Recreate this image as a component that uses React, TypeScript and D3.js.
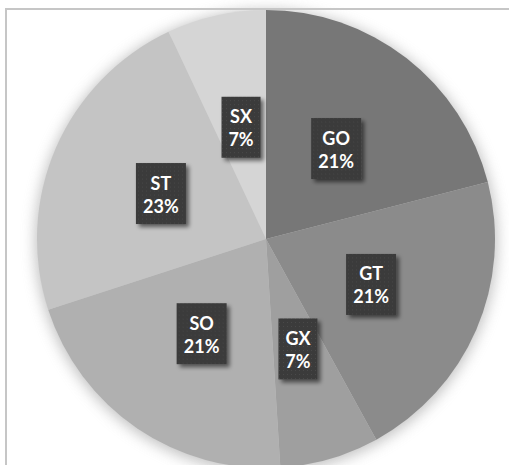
import React, { useEffect, useRef } from "react";
import * as d3 from "d3";

const categories = ["GO", "GT", "GX", "SO", "ST", "SX"];
const values = [21, 21, 7, 21, 23, 7];
const colors = ["#777777", "#8b8b8b", "#9f9f9f", "#b0b0b0", "#c4c4c4", "#d5d5d5"];

const W = 509;
const H = 465;
const CX = 266;
const CY = 239;
const R = 229;

export default function App() {
  const ref = useRef<SVGSVGElement | null>(null);

  useEffect(() => {
    const svg = d3.select(ref.current);
    svg.selectAll("*").remove();

    const defs = svg.append("defs");
    const glow = defs.append("filter").attr("id", "glow").attr("x", "-20%").attr("y", "-20%").attr("width", "140%").attr("height", "140%");
    glow.append("feGaussianBlur").attr("stdDeviation", 7);

    const sh = defs.append("filter").attr("id", "boxsh").attr("x", "-30%").attr("y", "-30%").attr("width", "160%").attr("height", "160%");
    sh.append("feGaussianBlur").attr("in", "SourceAlpha").attr("stdDeviation", 2).attr("result", "b");
    sh.append("feOffset").attr("in", "b").attr("dx", 3).attr("dy", 3).attr("result", "o");
    sh.append("feComponentTransfer").attr("in", "o").attr("result", "o2")
      .append("feFuncA").attr("type", "linear").attr("slope", 0.55);
    const m = sh.append("feMerge");
    m.append("feMergeNode").attr("in", "o2");
    m.append("feMergeNode").attr("in", "SourceGraphic");

    const pat = defs.append("pattern").attr("id", "dots").attr("width", 4).attr("height", 4).attr("patternUnits", "userSpaceOnUse");
    pat.append("rect").attr("width", 4).attr("height", 4).attr("fill", "#3a3a3a");
    pat.append("rect").attr("x", 1).attr("y", 1).attr("width", 1).attr("height", 1).attr("fill", "#4a4a4a");

    svg.append("rect").attr("width", W).attr("height", H).attr("fill", "#ffffff");

    const g = svg.append("g").attr("transform", `translate(${CX},${CY})`);

    g.append("circle").attr("r", R + 2).attr("cy", 2).attr("fill", "#9a9a9a").attr("filter", "url(#glow)").attr("opacity", 0.6);

    const pie = d3.pie<number>().sort(null).value((d) => d);
    const arcs = pie(values);
    const arc = d3.arc<d3.PieArcDatum<number>>().innerRadius(0).outerRadius(R);

    g.selectAll("path.slice")
      .data(arcs)
      .enter()
      .append("path")
      .attr("class", "slice")
      .attr("d", arc as any)
      .attr("fill", (_d, i) => colors[i]);

    const total = d3.sum(values);
    const lg = g.selectAll("g.lab").data(arcs).enter().append("g").attr("class", "lab")
      .attr("transform", (d) => {
        const c = arc.centroid(d);
        return `translate(${c[0]},${c[1]})`;
      });

    lg.each(function (d, i) {
      const sel = d3.select(this);
      const rect = sel.append("rect").attr("fill", "url(#dots)").attr("filter", "url(#boxsh)");
      const t1 = sel.append("text").text(categories[i]).attr("y", -11);
      const t2 = sel.append("text").text(`${Math.round((d.data / total) * 100)}%`).attr("y", 12);
      [t1, t2].forEach((t) =>
        t.attr("text-anchor", "middle").attr("dominant-baseline", "central")
          .attr("fill", "#ffffff").attr("font-family", "Lato, 'Open Sans', sans-serif")
          .attr("font-weight", "bold").attr("font-size", 18)
      );
      const w = Math.max((t1.node() as SVGTextElement).getComputedTextLength(), (t2.node() as SVGTextElement).getComputedTextLength());
      const bw = Math.round(w + 14);
      const bh = 61;
      rect.attr("x", -bw / 2).attr("y", -bh / 2).attr("width", bw).attr("height", bh);
    });

    svg.append("rect").attr("x", 6).attr("y", 9).attr("width", W + 20).attr("height", H + 20)
      .attr("fill", "none").attr("stroke", "#c6c6c6").attr("stroke-width", 2);
  }, []);

  return (
    <svg ref={ref} width={W} height={H} style={{ position: "absolute", left: 0, top: 0, display: "block" }} />
  );
}
